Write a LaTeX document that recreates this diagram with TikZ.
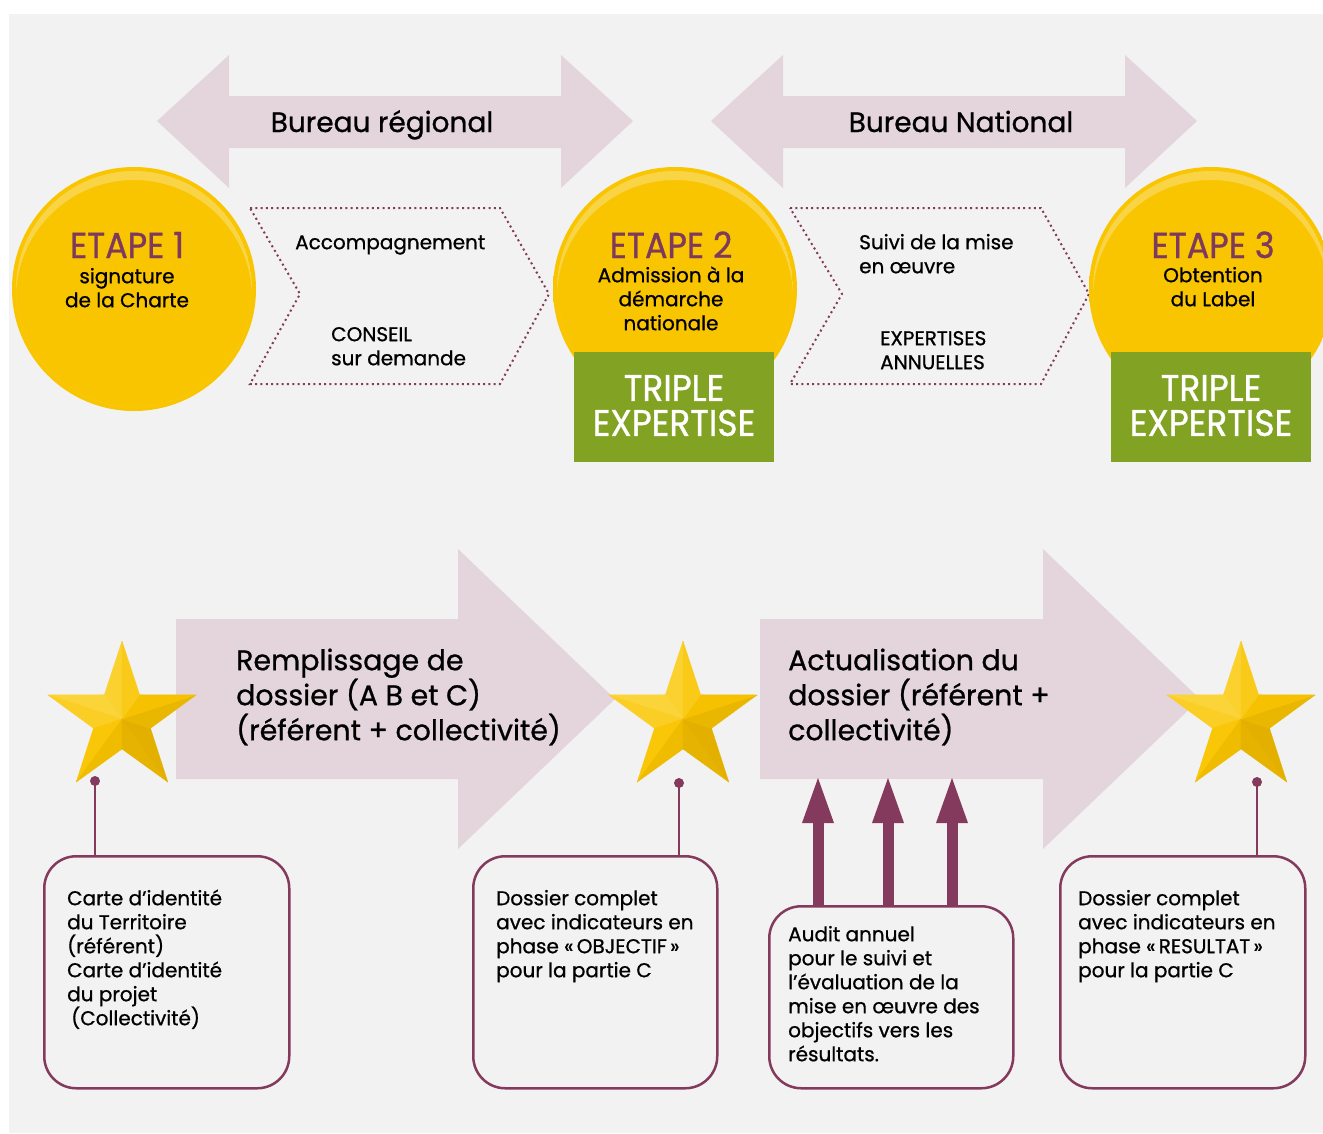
\documentclass[tikz,border=0pt]{standalone}
\usepackage{fontspec}
\setmainfont{Poppins}[FakeBold=0.8]
\newfontfamily\condf{Poppins}[FakeStretch=0.93,FakeBold=0.9]
\definecolor{bgc}{HTML}{F2F2F2}
\definecolor{pinkc}{HTML}{E3D5DB}
\definecolor{purp}{HTML}{843A5C}
\definecolor{etc}{HTML}{7E3A5D}
\definecolor{grn}{HTML}{82A223}
\definecolor{ylw}{HTML}{F9C400}
\definecolor{ydk}{HTML}{E6AE00}
\definecolor{ydkk}{HTML}{D29C00}
\definecolor{hic}{HTML}{FFF2A8}
\definecolor{loc}{HTML}{B08200}
\pgfdeclareradialshading{ball}{\pgfpoint{0bp}{0bp}}{color(0bp)=(ylw); color(40bp)=(ylw); color(46.5bp)=(ydk); color(50bp)=(ydkk); color(60bp)=(ydkk)}
\newcommand\goldstar[1]{%
  \begin{scope}[shift={(#1)}]
    \foreach \ta/\ia/\col in {90/126/ylw!72!hic, 162/126/ylw!66!hic, 162/198/ylw!78!hic, 234/198/ylw!95!hic, 234/270/ylw!88!loc, 306/270/ylw!74!loc, 306/342/ylw!70!loc, 18/342/ylw!80!loc, 18/54/ylw!95!loc, 90/54/ylw!86!hic}
      \filldraw[fill=\col, draw=\col, line width=0.3pt, line join=round] (0,0) -- (-\ta:78) -- (-\ia:30) -- cycle;
  \end{scope}}
\newcommand\yball[1]{%
  \shade[shading=ball] (#1) circle (122);
  \begin{scope}
    \clip (#1) circle (118);
    \fill[white, opacity=0.28, even odd rule] (#1) circle (118) ([yshift=-9pt]#1) circle (118);
  \end{scope}}
\begin{document}
\begin{tikzpicture}[x=1pt,y=-1pt,
  lbl/.style={font=\fontsize{28}{34}\selectfont, inner sep=0pt, text=black},
  etape/.style={font=\condf\fontsize{36}{40}\selectfont, inner sep=0pt, text=etc},
  sub/.style={font=\fontsize{20}{24}\selectfont, inner sep=0pt, text=black},
  big/.style={font=\fontsize{28.4}{35}\selectfont, inner sep=0pt, text=black, align=left, anchor=north west},
  tbox/.style={fill=grn, minimum width=200pt, minimum height=110pt, inner sep=0pt, text=white, align=center, font=\condf\fontsize{37}{35}\selectfont},
  chev/.style={draw=purp, line width=2pt, dash pattern=on 2pt off 3.3pt},
  arr/.style={fill=pinkc},
  box/.style={draw=purp, line width=2.5pt, rounded corners=32pt, fill=bgc, inner sep=0pt, anchor=north west},
  boxtxt/.style={font=\fontsize{20}{24}\selectfont, inner sep=0pt, align=left, anchor=north west, text=black},
  pinline/.style={draw=purp, line width=2pt},
]
\useasboundingbox (0,0) rectangle (1323,1133);
\clip (0,0) rectangle (1323,1133);
\fill[white] (0,0) rectangle (1323,1133);
\fill[bgc] (9,14) rectangle (1323,1133);

% top double arrows
\fill[arr] (157,121) -- (229,55) -- (229,96) -- (561,96) -- (561,55) -- (633,121) -- (561,188) -- (561,148) -- (229,148) -- (229,188) -- cycle;
\fill[arr] (711,121) -- (783,55) -- (783,96) -- (1125,96) -- (1125,55) -- (1197,121) -- (1125,188) -- (1125,148) -- (783,148) -- (783,188) -- cycle;
\node[lbl, anchor=base] (breg) at (382,132) {Bureau régional};
\node[lbl, anchor=base] (bnat) at (961,132) {Bureau National};

% dotted chevrons
\draw[chev] (250,208) -- (500,208) -- (549,294) -- (500,384) -- (250,384) -- (300,294) -- cycle;
\draw[chev] (790,208) -- (1041,208) -- (1089,294) -- (1041,384) -- (790,384) -- (842,294) -- cycle;
\node[sub, anchor=north west, align=left] (acc) at (295,229) {\rule{0pt}{20pt}Accompagnement};
\node[sub, anchor=north west, align=left] (cons) at (331,321) {\rule{0pt}{20pt}CONSEIL\\sur demande};
\node[sub, anchor=north west, align=left] (suivi) at (859,229) {\rule{0pt}{20pt}Suivi de la mise\\en œuvre};
\node[sub, anchor=north west, align=left] (expa) at (880,325) {\rule{0pt}{20pt}EXPERTISES\\ANNUELLES};

% circles
\coordinate (c1) at (134,289);
\coordinate (c2) at (675,289);
\coordinate (c3) at (1211,289);
\yball{c1}
\yball{c2}
\yball{c3}
\node[etape, anchor=base] (e1) at (127,258) {ETAPE 1};
\node[etape, anchor=base] (e2) at (671,258) {ETAPE 2};
\node[etape, anchor=base] (e3) at (1213,258) {ETAPE 3};
\node[sub, anchor=north, align=center] (s1) at (127,263) {\rule{0pt}{20pt}signature\\de la Charte};
\node[sub, anchor=north, align=center] (s2) at (671,262) {\rule{0pt}{20pt}Admission à la\\démarche\\nationale};
\node[sub, anchor=north, align=center] (s3) at (1213,262) {\rule{0pt}{20pt}Obtention\\du Label};
\node[tbox] (tx2) at (674,407) {\raisebox{3pt}{TRIPLE}\\\raisebox{3pt}{EXPERTISE}};
\node[tbox] (tx3) at (1211,407) {\raisebox{3pt}{TRIPLE}\\\raisebox{3pt}{EXPERTISE}};

% big arrows
\fill[arr] (176,619) -- (458,619) -- (458,549) -- (615,699) -- (458,849) -- (458,779) -- (176,779) -- cycle;
\fill[arr] (760,619) -- (1043,619) -- (1043,549) -- (1200,699) -- (1043,849) -- (1043,779) -- (760,779) -- cycle;
\node[big] (rem) at (236,641) {\rule{0pt}{29pt}Remplissage de\\dossier (A B et C)\\(référent + collectivité)};
\node[big] (act) at (788,641) {\rule{0pt}{29pt}Actualisation du\\dossier (référent +\\collectivité)};

% stars
\coordinate (st1) at (122,719);
\coordinate (st2) at (683,719);
\coordinate (st3) at (1241,719);
\goldstar{st1}
\goldstar{st2}
\goldstar{st3}

% boxes
\node[box, minimum width=245pt, minimum height=232pt] (b1) at (43,855) {};
\node[box, minimum width=244pt, minimum height=232pt] (b2) at (472,855) {};
\node[box, minimum width=244pt, minimum height=182pt] (b3) at (768,905) {};
\node[box, minimum width=245pt, minimum height=232pt] (b4) at (1059,855) {};

\node[boxtxt] (t1) at (67,885) {\rule{0pt}{20pt}Carte d’identité\\du Territoire\\(référent)\\Carte d’identité\\du projet\\\hspace{4pt}(Collectivité)};
\node[boxtxt] (t2) at (496,885) {\rule{0pt}{20pt}Dossier complet\\avec indicateurs en\\phase «\,OBJECTIF\,»\\pour la partie C};
\node[boxtxt] (t3) at (788,921) {\rule{0pt}{20pt}Audit annuel\\pour le suivi et\\l’évaluation de la\\mise en œuvre des\\objectifs vers les\\résultats.};
\node[boxtxt] (t4) at (1078,885) {\rule{0pt}{20pt}Dossier complet\\avec indicateurs en\\phase «\,RESULTAT\,»\\pour la partie C};

% pins
\coordinate (p1) at (95,781);
\coordinate (p2) at (679,783);
\coordinate (p3) at (1257,782);
\foreach \p/\b in {p1/b1, p2/b2, p3/b4} {
  \draw[pinline] (\p) -- (\p |- \b.north);
  \fill[purp] (\p) circle (5);
}

% up arrows
\coordinate (u1) at (818,778);
\coordinate (u2) at (888,778);
\coordinate (u3) at (952,778);
\foreach \u in {u1,u2,u3} {
  \draw[draw=purp, line width=11pt] (b3.north -| \u) -- ([yshift=-40pt]\u);
  \fill[purp] (\u) -- ++(16,45) -- ++(-32,0) -- cycle;
}
\end{tikzpicture}
\end{document}
